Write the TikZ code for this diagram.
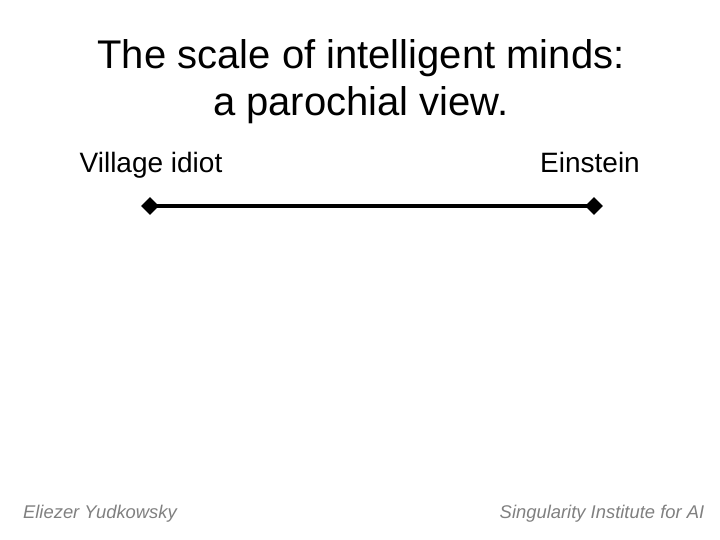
\documentclass[tikz,border=0pt]{standalone}
\usepackage{fontspec}
\setmainfont{Liberation Sans}
\usetikzlibrary{shapes.geometric}
\begin{document}
\begin{tikzpicture}[x=1pt,y=-1pt,
  title/.style={font=\fontsize{40}{47}\selectfont, anchor=base, inner sep=0},
  label/.style={font=\fontsize{28}{32}\selectfont, anchor=base, inner sep=0},
  footer/.style={font=\fontsize{18.4}{22}\selectfont\itshape, text=black!50, inner sep=0},
  endpoint/.style={diamond, fill=black, minimum size=18pt, inner sep=0},
  scale line/.style={line width=3.5pt}]
\useasboundingbox (0,0) rectangle (720,540);
\node[title] (t1) at (361,69) {The scale of intelligent minds:};
\node[title] (t2) at (361,116) {a parochial view.};
\node[label] (v) at (151,173) {Village idiot};
\node[label] (e) at (590,173) {Einstein};
\node[endpoint] (a) at (150,206) {};
\node[endpoint] (b) at (594,206) {};
\draw[scale line] (a.center) -- (b.center);
\node[footer] (f1) at (100,514) {Eliezer Yudkowsky};
\node[footer] (f2) at (602,514) {Singularity Institute for AI};
\end{tikzpicture}
\end{document}
